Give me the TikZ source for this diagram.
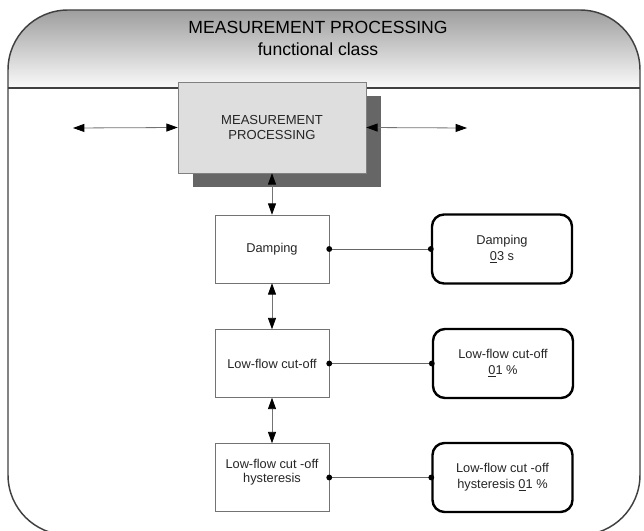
\documentclass[tikz,border=0pt]{standalone}
\usepackage{fontspec}
\setmainfont{Liberation Sans}
\usetikzlibrary{arrows.meta, shadows}

\begin{document}
\begin{tikzpicture}[
  x=0.75pt, y=-0.75pt,
  every node/.style={font=\fontsize{9.6}{11}\selectfont, text=black!85},
  mainbox/.style={rectangle, draw=black!50, fill=black!13, minimum width=141pt, minimum height=68.25pt, align=center,
    font=\fontsize{9.8}{11}\selectfont,
    drop shadow={shadow xshift=11.25pt, shadow yshift=-10.5pt, fill=black!60, opacity=1}},
  unit/.style={rectangle, draw=black!55, fill=white, minimum width=85.5pt, minimum height=51pt, align=center},
  param/.style={rectangle, draw=black, line width=1.8pt, rounded corners=9pt, fill=white, minimum width=105pt, minimum height=51.75pt, align=center,
    font=\fontsize{9.6}{12}\selectfont},
  arrow/.style={{Triangle[length=8.5pt, width=6pt, color=black]}-{Triangle[length=8.5pt, width=6pt, color=black]}, black!55, line width=0.6pt},
  link/.style={black!60, line width=0.6pt},
  dot/.style={circle, fill=black, inner sep=0pt, minimum size=4.4pt}
]
\useasboundingbox (0,0) rectangle (644,531);

% Header and frame
\begin{scope}
  \clip[rounded corners=45pt] (8,10) rectangle (640,535);
  \shade[top color=black!38, bottom color=black!2] (8,10) rectangle (640,88);
\end{scope}
\begin{scope}
  \clip (0,0) rectangle (644,531);
  \draw[black!75, line width=1.1pt, rounded corners=45pt] (8,10) rectangle (640,535);
\end{scope}
\draw[black!75, line width=1.1pt] (8,88) -- (640,88);
\node[font=\fontsize{13.2}{17}\selectfont, align=center, text=black] (title) at (318,38.5) {MEASUREMENT PROCESSING\\functional class};

% Main block
\node[mainbox] (main) at (272,127.5) {MEASUREMENT\\PROCESSING};
\coordinate (lft) at (73,128);
\coordinate (rgt) at (467,128);

% Function units
\node[unit] (damp) at (272,249) {Damping};
\node[unit] (cut) at (272,363.5) {Low-flow cut-off};
\node[unit] (hyst) at (272,477.5) {Low-flow cut -off\\hysteresis\\[-1pt]\mbox{}};

% Parameters
\node[param] (dampval) at (502,249) {Damping\\\underline{0}3 s};
\node[param] (cutval) at (503,363.5) {Low-flow cut-off\\\underline{0}1 \%};
\node[param] (hystval) at (502.5,477.5) {Low-flow cut -off\\hysteresis \underline{0}1 \%};

% Arrows
\draw[arrow] (lft) -- (main.west);
\draw[arrow] (main.east) -- (rgt);
\draw[arrow] (main) -- (damp);
\draw[arrow] (damp) -- (cut);
\draw[arrow] (cut) -- (hyst);

% Links
\draw[link] (damp.east) -- (dampval.west);
\draw[link] (cut.east) -- (cutval.west);
\draw[link] (hyst.east) -- (hystval.west);
\foreach \n in {damp, cut, hyst}
  \node[dot] at (\n.east) {};
\foreach \n in {dampval, cutval, hystval}
  \node[dot] at (\n.west) {};

\end{tikzpicture}
\end{document}
